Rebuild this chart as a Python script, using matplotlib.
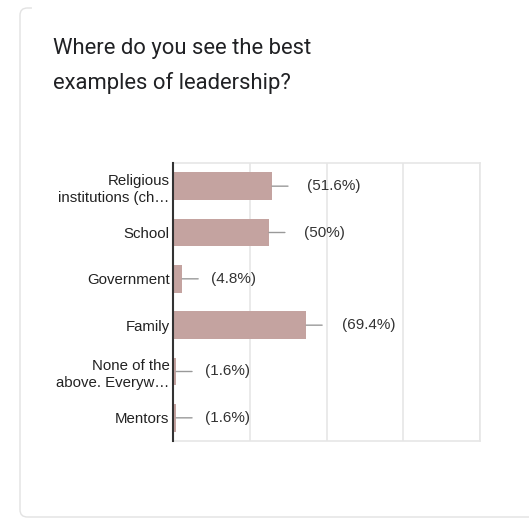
import matplotlib
matplotlib.use("Agg")
import matplotlib.pyplot as plt
from matplotlib.patches import FancyBboxPatch
from matplotlib.lines import Line2D

title = "Where do you see the best\nexamples of leadership?"
categories = ["Religious\ninstitutions (ch\u2026", "School", "Government", "Family",
              "None of the\nabove. Everyw\u2026", "Mentors"]
values = [51.6, 50.0, 4.8, 69.4, 1.6, 1.6]
value_labels = ["(51.6%)", "(50%)", "(4.8%)", "(69.4%)", "(1.6%)", "(1.6%)"]
grid_ticks = [0, 40, 80, 120, 160]

W, H = 529, 518
fig = plt.figure(figsize=(W / 100, H / 100), dpi=100)
fig.patch.set_facecolor("white")

# card border (left and bottom edges visible)
card = FancyBboxPatch((20 / W, 1 - 517 / H), 620 / W, 509 / H,
                      boxstyle="round,pad=0,rounding_size=0.014",
                      transform=fig.transFigure, facecolor="none",
                      edgecolor="#e2e2e2", linewidth=1.0, zorder=0)
fig.patches.append(card)
fig.add_artist(Line2D([34 / W, 1.0], [1 - 8 / H, 1 - 8 / H], color="white",
                      linewidth=3, transform=fig.transFigure, zorder=1))

fig.text(53 / W, 1 - 38 / H, title, fontsize=15.8, family=["Roboto", "DejaVu Sans"],
         color="#202124", va="top", ha="left", linespacing=1.75)

ax = fig.add_axes([173 / W, 1 - 441 / H, (480 - 173) / W, (441 - 163) / H])
y = list(range(len(categories)))
ax.barh(y, values, height=0.6, color="#c4a3a0", zorder=3)
ax.set_ylim(len(categories) - 0.5, -0.5)
ax.set_xlim(grid_ticks[0], grid_ticks[-1])
ax.set_xticks(grid_ticks)
ax.set_xticklabels([])
ax.tick_params(axis="x", length=0)
ax.tick_params(axis="y", length=0, pad=2.5)
ax.set_yticks(y)
ax.set_yticklabels(categories, fontsize=10.8, family=["Liberation Sans", "DejaVu Sans"],
                   color="#222222", linespacing=1.3)
ax.grid(axis="x", color="#e6e6e6", linewidth=1.2, zorder=0)
for s in ["top", "right", "bottom"]:
    ax.spines[s].set_color("#e6e6e6")
    ax.spines[s].set_linewidth(1.2)
ax.spines["left"].set_color("#333333")
ax.spines["left"].set_linewidth(1.5)
ax.spines["left"].set_zorder(5)

for yi, v, lab in zip(y, values, value_labels):
    gap = 25.5 if v > 10 else 21
    ax.annotate(lab, xy=(v, yi), xytext=(gap, 0), textcoords="offset points",
                va="center", ha="left", fontsize=11,
                family=["Liberation Sans", "DejaVu Sans"], color="#333333", zorder=4)
    ax.annotate("", xy=(v, yi), xytext=(11.5, 0), textcoords="offset points",
                arrowprops=dict(arrowstyle="-", color="#999999", lw=1.0,
                                shrinkA=0, shrinkB=0), zorder=4)

fig.savefig("out.png", dpi=100, facecolor="white")
